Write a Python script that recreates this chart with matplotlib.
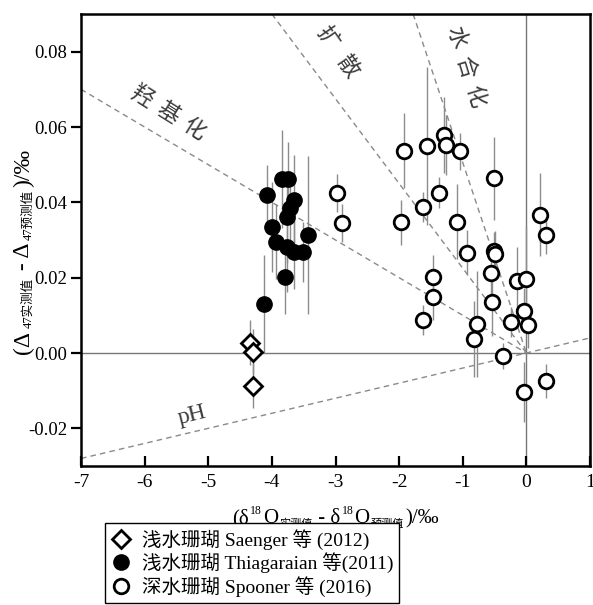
import matplotlib
matplotlib.use('Agg')
import matplotlib.pyplot as plt
from matplotlib.lines import Line2D
import numpy as np

plt.rcParams['axes.unicode_minus'] = False
SERIF = ['Liberation Serif', 'Noto Sans CJK SC']

# ---------------- data ----------------
# Saenger et al. (2012) shallow-water corals (diamonds)
saenger_x = [-4.35, -4.29, -4.30]
saenger_y = [0.0027, 0.0003, -0.0087]
saenger_err = [0.006, 0.006, 0.006]

# Thiagarajan et al. (2011) shallow-water corals (filled circles)
thiag_x = [-4.08, -3.84, -3.74, -3.65, -3.71, -3.77, -4.00, -3.93, -3.77, -3.66, -3.51, -3.44, -3.79, -4.13]
thiag_y = [0.0420, 0.0461, 0.0461, 0.0406, 0.0384, 0.0360, 0.0334, 0.0296, 0.0282, 0.0269, 0.0269, 0.0313, 0.0203, 0.0129]
thiag_err = [0.008, 0.013, 0.010, 0.012, 0.010, 0.012, 0.012, 0.010, 0.012, 0.010, 0.008, 0.021, 0.010, 0.013]

# Spooner et al. (2016) deep-water corals (open circles)
spooner_x = [-2.98, -2.89, -1.92, -1.56, -1.30, -1.26, -1.05, -1.38, -1.63, -1.97, -1.09,
             -0.51, 0.21, 0.31, -0.51, -0.50, -0.94, -1.47, -1.47, -1.62, -0.56, -0.54,
             -0.77, -0.82, -0.14, -0.01, -0.03, 0.02, -0.24, -0.36, -0.03, 0.31]
spooner_y = [0.0424, 0.0345, 0.0537, 0.0550, 0.0579, 0.0552, 0.0535, 0.0426, 0.0387, 0.0347, 0.0349,
             0.0464, 0.0367, 0.0313, 0.0271, 0.0263, 0.0266, 0.0201, 0.0148, 0.0088, 0.0213, 0.0135,
             0.0077, 0.0037, 0.0192, 0.0197, 0.0112, 0.0074, 0.0083, -0.0008, -0.0103, -0.0074]
spooner_err = [0.005, 0.005, 0.010, 0.021, 0.010, 0.008, 0.005, 0.004, 0.004, 0.006, 0.010,
               0.011, 0.011, 0.005, 0.005, 0.006, 0.006, 0.006, 0.006, 0.004, 0.008, 0.009,
               0.014, 0.010, 0.009, 0.014, 0.006, 0.006, 0.004, 0.0035, 0.008, 0.0045]

# kinetic-effect reference lines (end points)
line_names = ['羟基化', '扩散', '水合化', 'pH']
line_x0 = [-7.0, -4.0, -1.78, -7.0]
line_y0 = [0.070, 0.090, 0.090, -0.028]
line_x1 = [0.0, 0.0, 0.0, 1.0]
line_y1 = [0.0, 0.0, 0.0, 0.004]

legend_labels = ['浅水珊瑚 Saenger 等 (2012)', '浅水珊瑚 Thiagaraian 等(2011)', '深水珊瑚 Spooner 等 (2016)']
xticks = [-7, -6, -5, -4, -3, -2, -1, 0, 1]
yticks = [-0.02, 0.00, 0.02, 0.04, 0.06, 0.08]

# ---------------- figure ----------------
W, H = 593, 605
fig = plt.figure(figsize=(W / 100, H / 100), dpi=100)
ax = fig.add_axes([81 / W, 1 - 466 / H, (590 - 81) / W, (466 - 14) / H])
ax.set_xlim(-7, 1)
ax.set_ylim(-0.03, 0.09)

ax.axhline(0, color='#777777', lw=1.0, zorder=1)
ax.axvline(0, color='#777777', lw=1.0, zorder=1)
for x0, y0, x1, y1 in zip(line_x0, line_y0, line_x1, line_y1):
    ax.plot([x0, x1], [y0, y1], color='#8a8a8a', lw=1.0, ls=(0, (4, 3)), zorder=1)

ecol = '#8c8c8c'
ax.errorbar(spooner_x, spooner_y, yerr=spooner_err, fmt='none', ecolor=ecol, elinewidth=1.0, zorder=2)
ax.errorbar(thiag_x, thiag_y, yerr=thiag_err, fmt='none', ecolor=ecol, elinewidth=1.0, zorder=2)
ax.errorbar(saenger_x, saenger_y, yerr=saenger_err, fmt='none', ecolor=ecol, elinewidth=1.0, zorder=2)

ax.plot(spooner_x, spooner_y, 'o', ms=10.5, mfc='white', mec='black', mew=2.0, ls='none', zorder=3)
ax.plot(thiag_x, thiag_y, 'o', ms=11, mfc='black', mec='black', mew=1.0, ls='none', zorder=3)
ax.plot(saenger_x, saenger_y, 'D', ms=9, mfc='white', mec='black', mew=2.0, ls='none', zorder=3)

ax.set_xticks(xticks)
ax.set_xticklabels([f'{v:d}' for v in xticks])
ax.set_yticks(yticks)
ax.set_yticklabels([f'{v:.2f}' for v in yticks])
ax.tick_params(axis='y', direction='out', length=7, width=1.6, pad=3, labelsize=13.5)
ax.tick_params(axis='x', direction='in', length=7, width=1.6, pad=6, labelsize=14)
for lab in ax.get_xticklabels() + ax.get_yticklabels():
    lab.set_family(SERIF)
for s in ax.spines.values():
    s.set_linewidth(1.8)

# labels along the lines, one character at a time
def place_chars(chars, anchor, angle, step, size):
    fig.canvas.draw()
    px, py = ax.transData.transform(anchor)
    a = np.deg2rad(angle)
    n = len(chars)
    for i, ch in enumerate(chars):
        off = (i - (n - 1) / 2) * step
        dx, dy = ax.transData.inverted().transform((px + off * np.cos(a), py + off * np.sin(a)))
        ax.text(dx, dy, ch, fontsize=size, family=['Noto Sans CJK SC'], color='#3a3a3a',
                rotation=angle, rotation_mode='anchor', ha='center', va='center', zorder=4)

place_chars('羟基化', (-5.63, 0.0637), -32, 30, 16)
place_chars('扩散', (-2.97, 0.080), -55, 36, 16)
place_chars('水合化', (-0.95, 0.076), -73, 31, 16)
ax.text(-5.25, -0.0165, 'pH', fontsize=17, family=SERIF, color='#3a3a3a', rotation=14,
        ha='center', va='center', rotation_mode='anchor', zorder=4)

# composite axis labels
def compose(segs, x_px, y_px, rotation=0, gap=2.5):
    renderer = fig.canvas.get_renderer()
    widths = []
    for t, s, dy in segs:
        tt = fig.text(0, 0, t, fontsize=s, family=SERIF)
        widths.append(tt.get_window_extent(renderer).width + gap)
        tt.remove()
    total = sum(widths)
    yd = H - y_px
    pos = (x_px - total / 2) if rotation == 0 else (yd - total / 2)
    for (t, s, dy), w in zip(segs, widths):
        dyp = dy * fig.dpi / 72
        if rotation == 0:
            x, y = pos, yd + dyp
        else:
            x, y = x_px - dyp, pos
        fig.text(x / W, y / H, t, fontsize=s, family=SERIF, rotation=rotation,
                 rotation_mode='anchor', ha='left', va='baseline')
        pos += w

xl = [('(δ', 15, 0), ('18', 8.5, 6.5), ('O', 15, 0), ('实测值', 8, -3),
      (' - δ', 15, 0), ('18', 8.5, 6.5), ('O', 15, 0), ('预测值', 8, -3), (')/‰', 15, 0)]
compose(xl, 336, 523, 0, gap=1.0)

yl = [('(Δ', 17, 0), ('47实测值', 9, -2.0), (' - Δ', 17, 0), ('47预测值', 9, -2.0), (')/‰', 17, 0)]
compose(yl, 29, 250, 90, gap=2.5)

handles = [
    Line2D([], [], marker='D', ms=9, mfc='white', mec='black', mew=2.0, ls='none'),
    Line2D([], [], marker='o', ms=11, mfc='black', mec='black', ls='none'),
    Line2D([], [], marker='o', ms=10.5, mfc='white', mec='black', mew=2.0, ls='none'),
]
leg = fig.legend(handles, legend_labels, loc='upper left', bbox_to_anchor=(105 / W, 1 - 523 / H),
                 frameon=True, fancybox=False, edgecolor='black', framealpha=1,
                 prop={'family': SERIF, 'size': 14}, handlelength=1.0, handletextpad=0.6,
                 labelspacing=0.15, borderpad=0.3, borderaxespad=0)
leg.get_frame().set_linewidth(1.0)

fig.savefig('out.png', dpi=100)
